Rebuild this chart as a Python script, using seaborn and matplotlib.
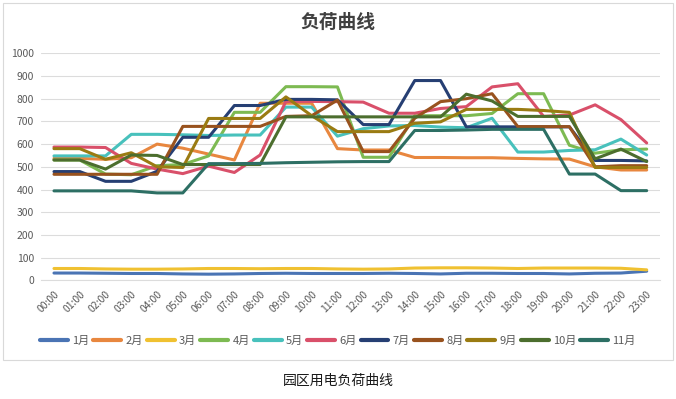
import numpy as np
import pandas as pd
import matplotlib
matplotlib.use("Agg")
import matplotlib.pyplot as plt
from matplotlib.patches import Rectangle
import seaborn as sns


# hourly load for each month
HOURS = [f"{h:02d}:00" for h in range(24)]
MONTHS = ["1月", "2月", "3月", "4月", "5月", "6月", "7月", "8月", "9月", "10月", "11月"]

jan = [32, 32, 31, 30, 30, 28, 27, 28, 30, 31, 30, 30, 30, 31, 30, 28, 31, 31, 30, 30, 28, 31, 32, 40]
feb = [537, 537, 533, 540, 600, 582, 556, 530, 780, 780, 780, 580, 574, 574, 541, 541, 540, 540, 537, 535, 534, 500, 486, 486]
mar = [52, 52, 50, 49, 49, 50, 52, 52, 51, 52, 52, 50, 49, 50, 54, 55, 55, 54, 52, 54, 54, 54, 53, 46]
apr = [530, 530, 468, 465, 505, 510, 548, 740, 740, 853, 853, 852, 542, 542, 725, 725, 725, 735, 822, 822, 595, 560, 575, 578]
may = [548, 548, 548, 643, 643, 641, 638, 640, 640, 763, 763, 635, 668, 680, 682, 675, 672, 714, 565, 565, 572, 575, 622, 552]
jun = [587, 587, 585, 515, 490, 470, 503, 475, 552, 788, 788, 787, 785, 736, 736, 757, 765, 852, 866, 722, 728, 773, 708, 605]
jul = [479, 479, 436, 436, 480, 630, 630, 770, 770, 797, 797, 795, 686, 686, 880, 880, 676, 676, 676, 676, 676, 528, 528, 526]
aug = [467, 467, 467, 467, 467, 678, 678, 678, 678, 722, 725, 794, 567, 567, 714, 787, 800, 822, 677, 677, 677, 500, 505, 505]
sep = [580, 580, 533, 562, 500, 497, 713, 713, 713, 808, 725, 655, 655, 655, 692, 698, 753, 753, 753, 748, 740, 497, 497, 497]
oct_ = [530, 530, 490, 552, 550, 510, 510, 510, 510, 720, 720, 720, 720, 720, 720, 720, 820, 790, 722, 722, 722, 535, 578, 523]
nov = [394, 394, 394, 394, 385, 385, 514, 514, 515, 518, 520, 522, 523, 523, 660, 660, 662, 665, 665, 665, 468, 468, 395, 395]

SERIES = [jan, feb, mar, apr, may, jun, jul, aug, sep, oct_, nov]
COLORS = ["#4A74B4", "#E8873F", "#F0C131", "#7DBA52", "#48C1BC", "#D9506A",
          "#263F73", "#98521E", "#9A7B12", "#4C6E2E", "#2D6F64"]

YTICKS = list(range(0, 1001, 100))


def build_frame():
    rows = []
    for month, values in zip(MONTHS, SERIES):
        for i, v in enumerate(values):
            rows.append({"hour": i, "month": month, "load": v})
    return pd.DataFrame(rows)


def main():
    sns.set_theme(style="white")
    plt.rcParams["font.family"] = ["Noto Sans CJK SC", "DejaVu Sans"]

    df = build_frame()

    fig = plt.figure(figsize=(6.76, 3.99), dpi=100)
    ax = fig.add_axes([0.0608, 0.2975, 0.9149, 0.5689])

    sns.lineplot(
        data=df, x="hour", y="load", hue="month",
        hue_order=MONTHS, palette=COLORS,
        linewidth=2.2, ax=ax, legend="full",
    )

    ax.set_xlim(-0.5, 23.5)
    ax.set_ylim(0, 1000)
    ax.set_yticks(YTICKS)
    ax.set_yticklabels([str(t) for t in YTICKS], fontsize=7.5, color="#595959")
    ax.set_xticks(range(24))
    ax.set_xticklabels(HOURS, fontsize=7.5, color="#595959",
                       rotation=45, ha="right", rotation_mode="anchor")
    ax.tick_params(axis="both", length=0, pad=5)
    ax.tick_params(axis="x", pad=6)
    ax.set_xlabel("")
    ax.set_ylabel("")
    ax.grid(axis="y", color="#DCDCDC", linewidth=0.8)
    ax.set_axisbelow(True)
    for side in ["top", "right", "left"]:
        ax.spines[side].set_visible(False)
    ax.spines["bottom"].set_color("#DCDCDC")
    ax.spines["bottom"].set_linewidth(0.8)

    handles, labels = ax.get_legend_handles_labels()
    ax.get_legend().remove()
    for h in handles:
        h.set_linewidth(3)
    fig.legend(
        handles, labels, loc="center", bbox_to_anchor=(0.5, 0.145),
        ncol=11, frameon=False, fontsize=8, labelcolor="#595959",
        handlelength=2.5, handletextpad=0.4, columnspacing=0.35,
    )

    fig.text(0.5, 1 - 22 / 399, "负荷曲线", ha="center", va="center",
             fontsize=13.5, fontweight="bold", color="#404040")
    fig.text(0.5, 1 - 381 / 399, "园区用电负荷曲线", ha="center", va="center",
             fontsize=10, color="#1A1A1A")

    # light frame around the chart area
    fig.patches.append(Rectangle(
        (3 / 676, 1 - 360 / 399), 670 / 676, 357 / 399,
        transform=fig.transFigure, fill=False,
        edgecolor="#D9D9D9", linewidth=0.8,
    ))

    fig.savefig("out.png", dpi=100)
    plt.close(fig)


if __name__ == "__main__":
    main()
